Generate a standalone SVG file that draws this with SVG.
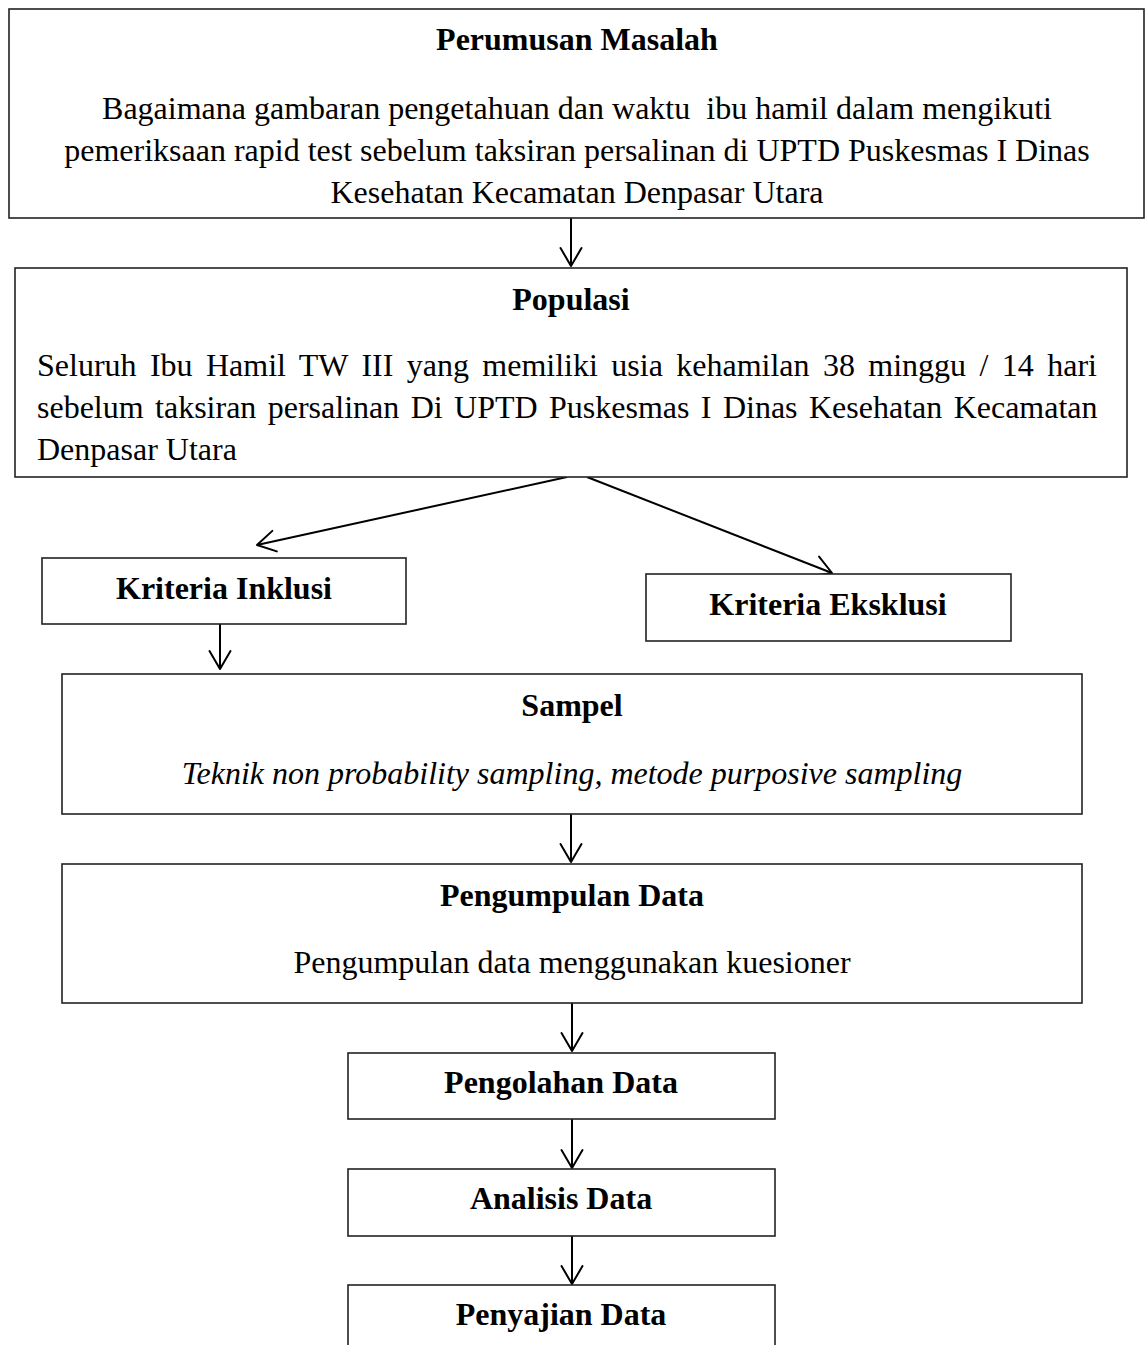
<svg xmlns="http://www.w3.org/2000/svg" width="1147" height="1345" viewBox="0 0 1147 1345">
<style>
.box{fill:#fff;stroke:#222;stroke-width:1.6}
.t{font-family:"Liberation Serif","Times New Roman",serif;font-size:32px;fill:#000;white-space:pre}
.b{font-weight:bold}
.i{font-style:italic}
.c{text-anchor:middle}
.conn{stroke:#000;stroke-width:2;fill:none;marker-end:url(#arr)}
</style>
<defs>
<marker id="arr" markerUnits="userSpaceOnUse" viewBox="-22 -13 26 26" markerWidth="26" markerHeight="26" refX="0" refY="0" orient="auto">
<path d="M-18,-10.5 L0,0 L-18,10.5" fill="none" stroke="#000" stroke-width="2" stroke-linejoin="round" stroke-linecap="round"/>
</marker>
</defs>
<rect width="1147" height="1345" fill="#fff"/>
<g id="connectors">
<line class="conn" x1="571" y1="218" x2="571" y2="266"/>
<line class="conn" x1="567" y1="477" x2="257" y2="545"/>
<line class="conn" x1="587" y1="477" x2="832" y2="573"/>
<line class="conn" x1="220" y1="624" x2="220" y2="669"/>
<line class="conn" x1="571" y1="814" x2="571" y2="862"/>
<line class="conn" x1="572" y1="1003" x2="572" y2="1051"/>
<line class="conn" x1="572" y1="1119" x2="572" y2="1168"/>
<line class="conn" x1="572" y1="1236" x2="572" y2="1284"/>
</g>
<g id="perumusan">
<rect class="box" x="9" y="9" width="1135" height="209"/>
<text class="t b c" x="577" y="50">Perumusan Masalah</text>
<text class="t c" x="577" y="119">Bagaimana gambaran pengetahuan dan waktu  ibu hamil dalam mengikuti</text>
<text class="t c" x="577" y="161">pemeriksaan rapid test sebelum taksiran persalinan di UPTD Puskesmas I Dinas</text>
<text class="t c" x="577" y="203">Kesehatan Kecamatan Denpasar Utara</text>
</g>
<g id="populasi">
<rect class="box" x="15" y="268" width="1112" height="209"/>
<text class="t b c" x="571" y="310">Populasi</text>
<text class="t" x="37" y="376" word-spacing="5.4">Seluruh Ibu Hamil TW III yang memiliki usia kehamilan 38 minggu / 14 hari</text>
<text class="t" x="37" y="418" word-spacing="3.4">sebelum taksiran persalinan Di UPTD Puskesmas I Dinas Kesehatan Kecamatan</text>
<text class="t" x="37" y="460">Denpasar Utara</text>
</g>
<g id="inklusi">
<rect class="box" x="42" y="558" width="364" height="66"/>
<text class="t b c" x="224" y="599">Kriteria Inklusi</text>
</g>
<g id="eksklusi">
<rect class="box" x="646" y="574" width="365" height="67"/>
<text class="t b c" x="828" y="615">Kriteria Eksklusi</text>
</g>
<g id="sampel">
<rect class="box" x="62" y="674" width="1020" height="140"/>
<text class="t b c" x="572" y="716">Sampel</text>
<text class="t i c" x="572" y="784">Teknik non probability sampling, metode purposive sampling</text>
</g>
<g id="pengumpulan">
<rect class="box" x="62" y="864" width="1020" height="139"/>
<text class="t b c" x="572" y="906">Pengumpulan Data</text>
<text class="t c" x="572" y="973">Pengumpulan data menggunakan kuesioner</text>
</g>
<g id="pengolahan">
<rect class="box" x="348" y="1053" width="427" height="66"/>
<text class="t b c" x="561" y="1093">Pengolahan Data</text>
</g>
<g id="analisis">
<rect class="box" x="348" y="1169" width="427" height="67"/>
<text class="t b c" x="561" y="1209">Analisis Data</text>
</g>
<g id="penyajian">
<rect class="box" x="348" y="1285" width="427" height="100"/>
<text class="t b c" x="561" y="1325">Penyajian Data</text>
</g>
</svg>
